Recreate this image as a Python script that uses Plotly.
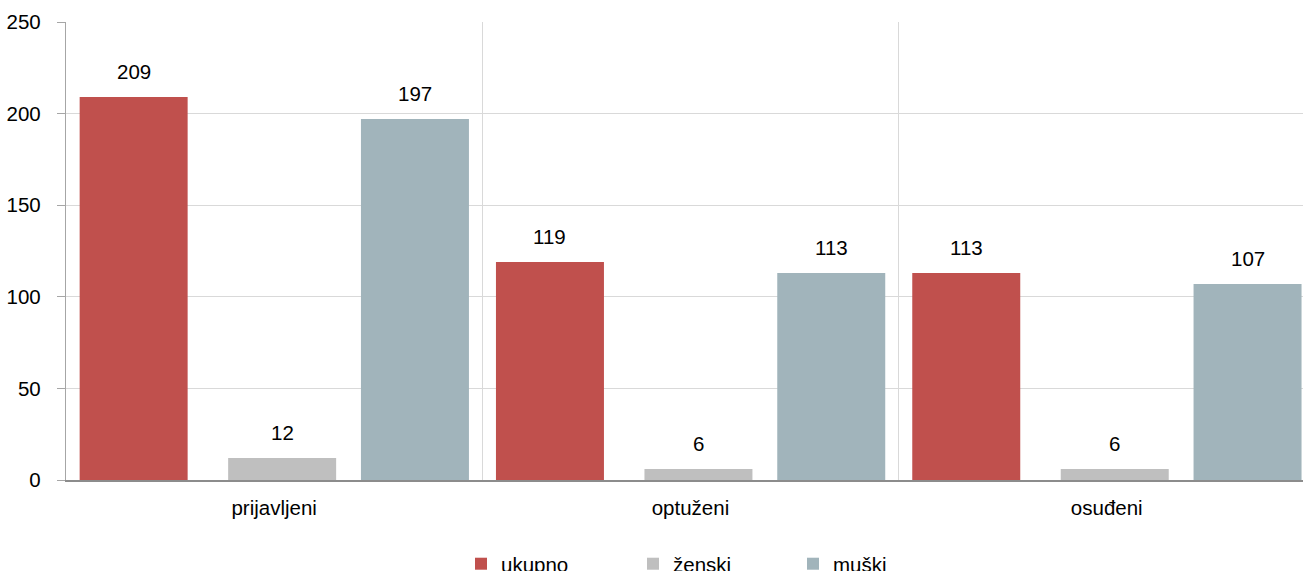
import plotly.graph_objects as go

categories = ["prijavljeni", "optuženi", "osuđeni"]
series_names = ["ukupno", "ženski", "muški"]
ukupno = [209, 119, 113]
zenski = [12, 6, 6]
muski = [197, 113, 107]
y_ticks = [0, 50, 100, 150, 200, 250]

colors = ["#C0504D", "#BFBFBF", "#A1B4BB"]
values = [ukupno, zenski, muski]

BAR_W = 0.2594
offsets = [-0.4672, -0.1105, 0.2085]
legend_ids = ["legend", "legend2", "legend3"]
legend_px = [461, 633, 793]

FONT = "Liberation Sans, Arial, sans-serif"
FS = 20.5
fig = go.Figure()
for name, vals, col, off, lg in zip(series_names, values, colors, offsets, legend_ids):
    fig.add_trace(go.Bar(
        x=categories, y=vals, name=name, marker=dict(color=col, line=dict(width=0)),
        width=BAR_W, offset=off, legend=lg, hoverinfo="x+y+name",
    ))

annotations = []
for vals, off in zip(values, offsets):
    for i, v in enumerate(vals):
        annotations.append(dict(
            x=i + off + BAR_W / 2, y=v, xref="x", yref="y", text=str(v),
            showarrow=False, yanchor="bottom", yshift=12,
            font=dict(family=FONT, size=FS, color="#000000"),
        ))

leg_common = dict(orientation="h", yanchor="top", xanchor="left", y=-0.1395,
                  font=dict(family=FONT, size=FS, color="#000000"),
                  bgcolor="rgba(0,0,0,0)", itemwidth=30, tracegroupgap=0)

PLOT_W = 1303 - 66
legends = {lg: dict(x=(px - 66) / PLOT_W, **leg_common) for lg, px in zip(legend_ids, legend_px)}

fig.update_layout(
    width=1303, height=571,
    margin=dict(l=66, r=0, t=22, b=91, autoexpand=False),
    paper_bgcolor="white", plot_bgcolor="white",
    barmode="overlay",
    showlegend=True,
    annotations=annotations,
    font=dict(family=FONT, size=FS, color="#000000"),
    xaxis=dict(
        type="category", range=[-0.5, 2.4714], tickson="boundaries",
        showgrid=True, gridcolor="#D9D9D9", gridwidth=1.3,
        showline=True, linecolor="#8C8C8C", linewidth=2,
        ticks="", ticklabelstandoff=8, zeroline=False,
        tickfont=dict(family=FONT, size=FS, color="#000000"),
    ),
    yaxis=dict(
        range=[0, 250], tickvals=y_ticks, showgrid=True, gridcolor="#D9D9D9", gridwidth=1.3,
        showline=True, linecolor="#A6A6A6", linewidth=1.3,
        ticks="outside", ticklen=8, tickcolor="#A6A6A6", tickwidth=1.3,
        ticklabelstandoff=12, zeroline=False,
        tickfont=dict(family=FONT, size=FS, color="#000000"),
    ),
    **legends,
)

fig.write_html(
    "out.html",
    config={"displayModeBar": False},
    post_script="document.body.style.margin='0';document.body.style.overflow='hidden';",
)
